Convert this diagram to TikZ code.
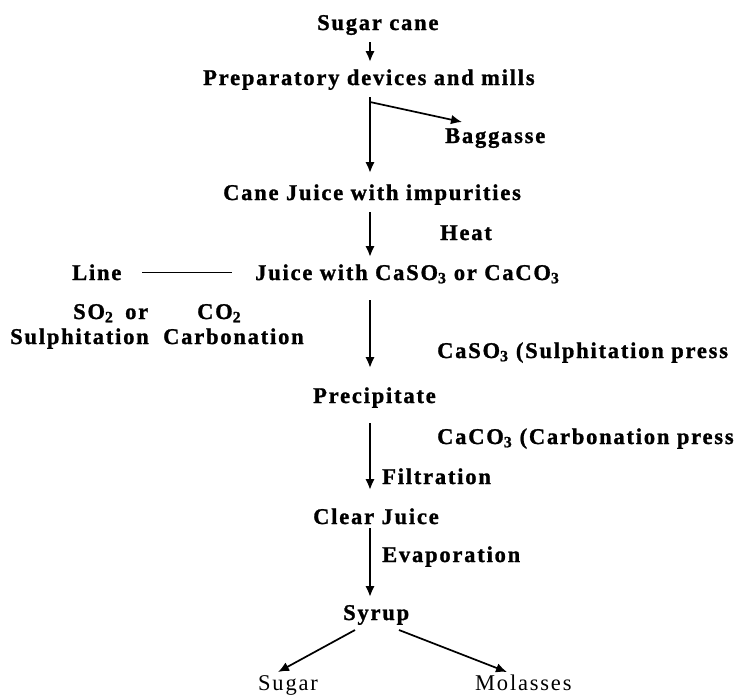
\documentclass[tikz,border=0pt]{standalone}
\usepackage{fontspec}
\setmainfont{Liberation Serif}[LetterSpace=8, BoldFeatures={FakeBold=1.2}]
\usetikzlibrary{arrows.meta,calc}
\begin{document}
\begin{tikzpicture}[x=1pt,y=-1pt,
  every node/.style={inner sep=0pt, anchor=base west},
  lbl/.style={font=\fontsize{22.5}{27}\selectfont\bfseries},
  plain/.style={font=\fontsize{22.5}{27}\selectfont},
  arr/.style={line width=2.2pt, -{Latex[length=11pt,width=9.5pt]}},
  thinarr/.style={line width=1.7pt, -{Latex[length=11pt,width=9.5pt]}},
  joinline/.style={line width=1pt}]
\useasboundingbox (0,0) rectangle (745,697);
\clip (0,0) rectangle (745,697);
\coordinate (col) at (370,0);
\node[lbl] (sc)   at (317,30)  {Sugar cane};
\node[lbl] (pre)  at (203,85)  {Preparatory devices and mills};
\node[lbl] (bag)  at (445,143) {Baggasse};
\node[lbl] (cj)   at (223,200) {Cane Juice with impurities};
\node[lbl] (heat) at (440,240) {Heat};
\node[lbl] (line) at (72,280)  {Line};
\node[lbl] (jw)   at (255,280) {Juice with CaSO\textsubscript{3} or CaCO\textsubscript{3}};
\node[lbl] (so)   at (73,319)  {SO\textsubscript{2}};
\node[lbl] (or)   at (125,319) {or};
\node[lbl] (co)   at (197,319) {CO\textsubscript{2}};
\node[lbl] (sul)  at (10,344)  {Sulphitation};
\node[lbl] (carb) at (163,344) {Carbonation};
\node[lbl] (caso) at (437,358) {CaSO\textsubscript{3} (Sulphitation press};
\node[lbl] (prec) at (313,403) {Precipitate};
\node[lbl] (caco) at (437,444) {CaCO\textsubscript{3} (Carbonation press};
\node[lbl] (filt) at (382,484) {Filtration};
\node[lbl] (cl)   at (313,524) {Clear Juice};
\node[lbl] (evap) at (382,562) {Evaporation};
\node[lbl] (syr)  at (343,620) {Syrup};
\node[plain] (sug) at (258,690) {Sugar};
\node[plain] (mol) at (475,690) {Molasses};
% main flow
\draw[arr] ($(sc.base -| col)+(0,12)$) -- ($(pre.base -| col)+(0,-23)$);
\draw[arr] ($(pre.base -| col)+(0,12)$) -- ($(cj.base -| col)+(0,-27)$);
\draw[thinarr] ($(pre.base -| col)+(0,17)$) -- ($(bag.base west)+(17,-21)$);
\draw[arr] ($(cj.base -| col)+(0,12)$) -- ($(jw.base -| col)+(0,-23)$);
\draw[arr] ($(jw.base -| col)+(0,20)$) -- ($(prec.base -| col)+(0,-35)$);
\draw[arr] ($(prec.base -| col)+(0,20)$) -- ($(cl.base -| col)+(0,-34)$);
\draw[arr] ($(cl.base -| col)+(0,4)$) -- ($(syr.base -| col)+(0,-23)$);
\draw[thinarr] ($(syr.base west)+(12,10)$) -- ($(sug.base west)+(20,-18)$);
\draw[thinarr] ($(syr.base west)+(56,10)$) -- ($(mol.base west)+(32,-18)$);
\draw[joinline] ($(line.base west)+(70,-8)$) -- ($(jw.base west)+(-23,-8)$);
\end{tikzpicture}
\end{document}
